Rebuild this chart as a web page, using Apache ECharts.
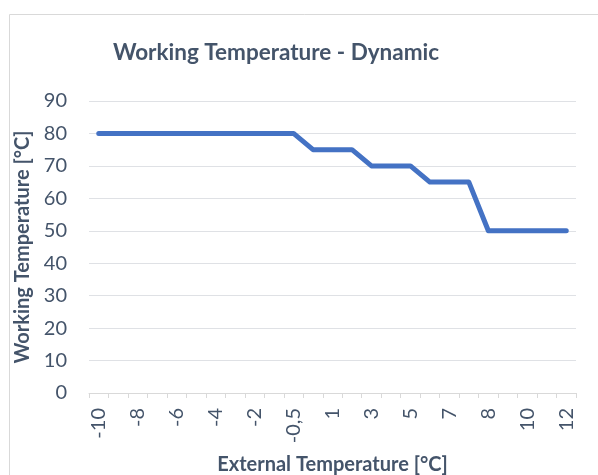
<!DOCTYPE html>
<html>
<head>
<meta charset="utf-8">
<script src="https://cdn.jsdelivr.net/npm/echarts@6/dist/echarts.min.js"></script>
<style>
  html, body { margin: 0; padding: 0; background: #fff; }
  #chart { width: 598px; height: 475px; }
</style>
</head>
<body>
<div id="chart"></div>
<script>
// external temperature categories (labels as in the source, comma decimals)
var categories = ['-10', '-9', '-8', '-7', '-6', '-5', '-4', '-3', '-2', '-1', '-0,5', '0',
                  '1', '2', '3', '4', '5', '6', '7', '7,5', '8', '9', '10', '11', '12'];
// working temperature per category
var workingTemp = [80, 80, 80, 80, 80, 80, 80, 80, 80, 80, 80, 75,
                   75, 75, 70, 70, 70, 65, 65, 65, 50, 50, 50, 50, 50];

var textColor = '#44546a';
var fontFamily = 'Lato, "Open Sans", sans-serif';

var chart = echarts.init(document.getElementById('chart'));

var option = {
    animation: false,
    textStyle: { fontFamily: fontFamily },
    graphic: [{
        type: 'rect',
        shape: { x: 9.5, y: 14.5, width: 620, height: 500 },
        style: { fill: 'none', stroke: '#d9d9d9', lineWidth: 1 },
        silent: true
    }],
    title: {
        text: 'Working Temperature - Dynamic',
        left: 271,
        top: 36,
        textAlign: 'center',
        textStyle: {
            color: textColor,
            fontSize: 22.5,
            fontWeight: 'bold',
            fontFamily: fontFamily
        }
    },
    grid: {
        left: 89,
        right: 22,
        top: 101,
        bottom: 82,
        outerBoundsMode: 'none',
        containLabel: false
    },
    xAxis: {
        type: 'category',
        data: categories,
        boundaryGap: true,
        name: 'External Temperature [°C]',
        nameLocation: 'middle',
        nameGap: 62,
        nameTextStyle: {
            color: textColor,
            fontSize: 20,
            fontWeight: 'bold'
        },
        axisLine: { lineStyle: { color: '#d9d9d9', width: 1 } },
        axisTick: {
            show: true,
            interval: 0,
            alignWithLabel: false,
            length: 5,
            lineStyle: { color: '#d9d9d9' }
        },
        axisLabel: {
            interval: 1,
            rotate: 90,
            margin: 15,
            color: textColor,
            fontSize: 20
        }
    },
    yAxis: {
        type: 'value',
        min: 0,
        max: 90,
        interval: 10,
        name: 'Working Temperature [°C]',
        nameLocation: 'middle',
        nameGap: 54,
        nameTextStyle: {
            color: textColor,
            fontSize: 20,
            fontWeight: 'bold'
        },
        axisLine: { show: false },
        axisTick: { show: false },
        axisLabel: {
            margin: 22,
            color: textColor,
            fontSize: 20
        },
        splitLine: { lineStyle: { color: '#dfe1e5', width: 1 } }
    },
    series: [{
        type: 'line',
        data: workingTemp,
        symbol: 'none',
        lineStyle: { color: '#4472c4', width: 5, cap: 'round', join: 'round' },
        itemStyle: { color: '#4472c4' }
    }]
};

chart.setOption(option);
</script>
</body>
</html>
